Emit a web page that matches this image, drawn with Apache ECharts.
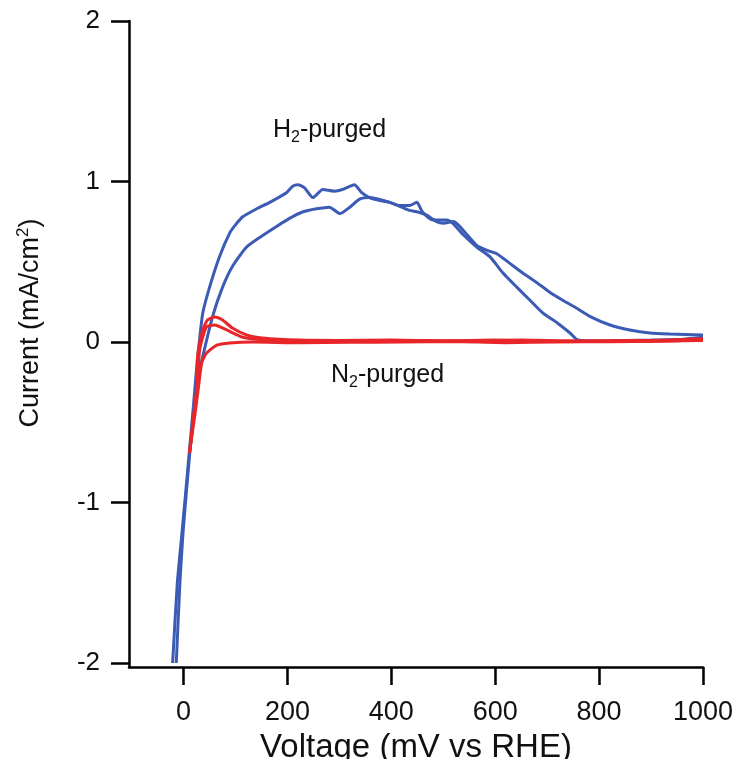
<!DOCTYPE html>
<html lang="en">
  <head>
    <meta charset="UTF-8" />
    <title>CV</title>
    <script src="https://cdn.jsdelivr.net/npm/echarts@6.0.0/dist/echarts.min.js"></script>
    <style>
      html, body { margin: 0; padding: 0; background: #fff; }
      #box { width: 734px; height: 759px; }
    </style>
  </head>
  <body>
    <div id="box"></div>
    <script>
      // tick labels
      var xTicks = [0, 200, 400, 600, 800, 1000];
      var yTicks = [-2, -1, 0, 1, 2];

      // H2-purged loop, [mV, mA/cm2]
      var h2Outer = [
        [-21, -2], [-12, -1.5], [-3, -1.19], [11, -0.69], [19, -0.4], [25, -0.17],
        [31, 0.02], [37, 0.18], [50, 0.34], [69, 0.53], [89, 0.68], [100, 0.73],
        [114, 0.78], [141, 0.83], [166, 0.87], [198, 0.93], [210, 0.97], [220, 0.98],
        [233, 0.96], [249, 0.9], [268, 0.95], [290, 0.94], [306, 0.95], [329, 0.98],
        [343, 0.93], [358, 0.9], [380, 0.88], [397, 0.87], [416, 0.85], [435, 0.85],
        [449, 0.87], [460, 0.81], [480, 0.76], [507, 0.76], [518, 0.74], [538, 0.67],
        [565, 0.59], [590, 0.53], [615, 0.43], [642, 0.34], [667, 0.26], [692, 0.18],
        [719, 0.12], [744, 0.056], [759, 0.012], [800, 0.006], [850, 0.01],
        [900, 0.012], [950, 0.015], [1000, 0.03]
      ];
      var h2Inner = [
        [-14, -2], [-7, -1.5], [-1, -1.19], [12, -0.69], [22, -0.4], [30, -0.2],
        [37, -0.09], [56, 0.16], [75, 0.34], [94, 0.47], [121, 0.59], [146, 0.65],
        [179, 0.72], [204, 0.77], [229, 0.81], [256, 0.83], [281, 0.84], [301, 0.8],
        [320, 0.84], [339, 0.89], [358, 0.9], [376, 0.89], [397, 0.87], [420, 0.84],
        [435, 0.82], [451, 0.81], [468, 0.79], [487, 0.75], [500, 0.74], [520, 0.75],
        [540, 0.69], [565, 0.6], [585, 0.57], [603, 0.55], [628, 0.49], [653, 0.43],
        [680, 0.37], [705, 0.31], [730, 0.26], [757, 0.21], [782, 0.16], [821, 0.106],
        [859, 0.075], [898, 0.056], [936, 0.05], [1000, 0.044]
      ];

      // N2-purged cycles
      var n2Upper = [
        [11.5, -0.69], [20, -0.45], [25, -0.3], [27, -0.09], [37, 0.075], [46, 0.137],
        [60, 0.156], [75, 0.137], [94, 0.087], [121, 0.044], [152, 0.025], [224, 0.012],
        [300, 0.01], [400, 0.012], [500, 0.008], [600, 0.012], [700, 0.006],
        [800, 0.008], [900, 0.01], [1000, 0.02]
      ];
      var n2Middle = [
        [11.5, -0.69], [20, -0.45], [26, -0.3], [31, -0.05], [44, 0.093], [60, 0.106],
        [83, 0.075], [114, 0.03], [166, 0.012], [250, 0.008], [350, 0.006], [450, 0.009],
        [550, 0.004], [650, 0.012], [750, 0.006], [850, 0.004], [950, 0.008], [1000, 0.015]
      ];
      var n2Lower = [
        [11.5, -0.69], [22, -0.45], [28, -0.3], [35, -0.13], [44, -0.07], [64, -0.02],
        [89, -0.006], [133, 0], [224, -0.005], [320, -0.002], [420, 0], [520, 0.003],
        [620, -0.004], [720, 0], [820, 0.002], [920, 0.005], [1000, 0.01]
      ];

      var blue = "#3b5bb4";
      var red = "#e8262a";
      var font = "Liberation Sans, Arial, sans-serif";

      function lineSeries(data, color) {
        return {
          type: "line",
          data: data,
          showSymbol: false,
          silent: true,
          smooth: 0.2,
          lineStyle: { color: color, width: 3 },
        };
      }

      var annoRich = {
        n: { fontSize: 25, fontFamily: font, fill: "#111", lineHeight: 30 },
        s: { fontSize: 16, fontFamily: font, fill: "#111", verticalAlign: "bottom", lineHeight: 12 },
      };

      var myChart = echarts.init(document.getElementById("box"));
      var option = {
        animation: false,
        grid: { left: 129, right: 31, top: 21, bottom: 92, containLabel: false, outerBoundsMode: "none" },
        xAxis: {
          type: "value",
          min: -105,
          max: 1000,
          name: "Voltage (mV vs RHE)",
          nameLocation: "middle",
          nameGap: 64,
          nameTextStyle: { color: "#111", fontSize: 33, fontFamily: font },
          splitLine: { show: false },
          axisLine: { onZero: false, lineStyle: { color: "#000", width: 2.5 } },
          axisTick: { customValues: xTicks, length: 18, lineStyle: { color: "#000", width: 2.5 } },
          axisLabel: {
            customValues: xTicks,
            margin: 32,
            color: "#111",
            fontSize: 27,
            fontFamily: font,
            formatter: function (v) { return String(v); },
          },
        },
        yAxis: {
          type: "value",
          min: -2.025,
          max: 2,
          name: "{a|Current (mA/cm}{s|2}{a|)}",
          nameLocation: "middle",
          nameGap: 82,
          nameTextStyle: {
            padding: [0, 0, 0, 42],
            rich: {
              a: { color: "#111", fontSize: 27, fontFamily: font, lineHeight: 32 },
              s: { color: "#111", fontSize: 17, fontFamily: font, verticalAlign: "top", lineHeight: 14 },
            },
          },
          splitLine: { show: false },
          axisLine: { onZero: false, lineStyle: { color: "#000", width: 2.5 } },
          axisTick: { customValues: yTicks, length: 18, lineStyle: { color: "#000", width: 2.5 } },
          axisLabel: { customValues: yTicks, margin: 29, color: "#111", fontSize: 26, fontFamily: font },
        },
        graphic: [
          {
            type: "text",
            left: 273,
            top: 118,
            style: { text: "{n|H}{s|2}{n|-purged}", rich: annoRich },
          },
          {
            type: "text",
            left: 331,
            top: 363,
            style: { text: "{n|N}{s|2}{n|-purged}", rich: annoRich },
          },
        ],
        series: [
          lineSeries(h2Outer, blue),
          lineSeries(h2Inner, blue),
          lineSeries(n2Upper, red),
          lineSeries(n2Middle, red),
          lineSeries(n2Lower, red),
        ],
      };
      myChart.setOption(option);
    </script>
  </body>
</html>
